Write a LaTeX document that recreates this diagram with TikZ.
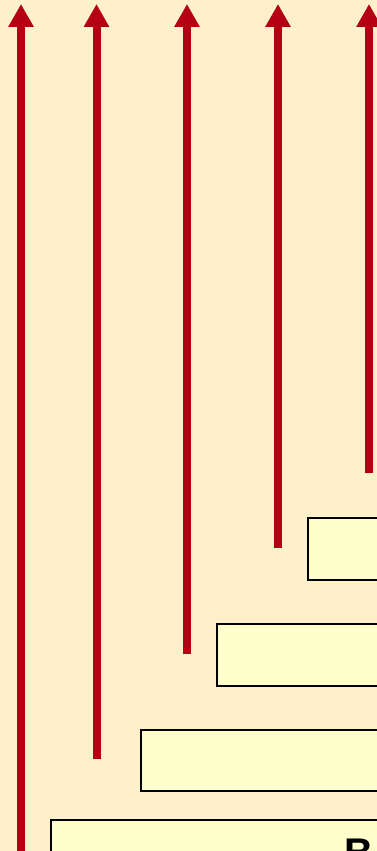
\documentclass[tikz,border=0pt]{standalone}
\usepackage{fontspec}
\setmainfont{Liberation Sans}
\usetikzlibrary{arrows.meta}
\definecolor{bgc}{RGB}{255,240,204}
\definecolor{boxc}{RGB}{255,255,204}
\definecolor{arrc}{RGB}{181,0,20}
\begin{document}
\begin{tikzpicture}[x=1pt,y=-1pt,
  stage/.style={draw=black, line width=2.4pt, fill=boxc, anchor=north west, inner sep=0pt, minimum width=500pt},
  uparrow/.style={draw=arrc, line width=8pt, -{Triangle[width=24pt,length=23pt]}}]
\useasboundingbox (0,0) rectangle (377,851);
\clip (0,0) rectangle (377,851);
\fill[bgc] (0,0) rectangle (377,851);
% boxes
\node[stage, minimum height=62pt] (b4) at (307,517) {};
\node[stage, minimum height=62pt] (b3) at (216,623) {};
\node[stage, minimum height=61pt] (b2) at (140,729) {};
\node[stage, minimum height=62pt] (b1) at (50,819) {};
\node[anchor=base west, inner sep=0pt, font=\fontsize{40}{40}\selectfont\bfseries] (t1) at (344,866) {B};
% arrow coordinates
\coordinate (s1) at (21,860);  \coordinate (e1) at (21,4);
\coordinate (s2) at (96.5,759); \coordinate (e2) at (96.5,4);
\coordinate (s3) at (187,654); \coordinate (e3) at (187,4);
\coordinate (s4) at (278,548); \coordinate (e4) at (278,4);
\coordinate (s5) at (369,473); \coordinate (e5) at (369,4);
\foreach \i in {1,...,5} {\draw[uparrow] (s\i) -- (e\i);}
\end{tikzpicture}
\end{document}
